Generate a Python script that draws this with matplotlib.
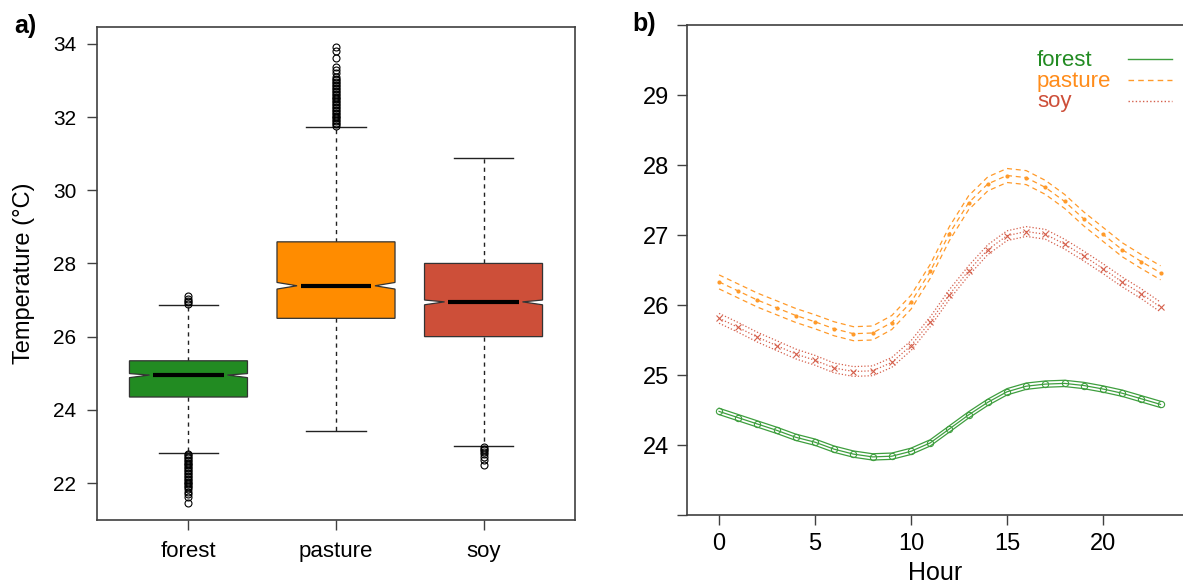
import matplotlib
matplotlib.use("Agg")
import matplotlib.pyplot as plt
from matplotlib.patches import Polygon
from matplotlib.lines import Line2D

plt.rcParams['font.family'] = ['Liberation Sans', 'DejaVu Sans']

# ---------------- Panel a data (boxplot statistics) ----------------
categories = ["forest", "pasture", "soy"]
box_colors = ["#228B22", "#FF8C00", "#CD4F39"]
q1 = [24.35, 26.50, 26.00]
q3 = [25.34, 28.59, 28.00]
med = [24.95, 27.39, 26.95]
notch_lo = [24.88, 27.30, 26.87]
notch_hi = [24.99, 27.48, 27.00]
whisk_lo = [22.83, 23.43, 23.02]
whisk_hi = [26.87, 31.72, 30.89]
fliers_forest = [22.80, 22.76, 22.72, 22.68, 22.64, 22.60, 22.56, 22.52, 22.48, 22.44,
                 22.40, 22.36, 22.32, 22.28, 22.24, 22.20, 22.16, 22.12, 22.08, 22.04,
                 22.00, 21.96, 21.92, 21.88, 21.83, 21.76, 21.70, 21.63, 21.45,
                 26.90, 26.94, 26.98, 27.03, 27.12]
fliers_pasture = [31.76, 31.80, 31.84, 31.88, 31.92, 31.96, 32.00, 32.04, 32.08, 32.12,
                  32.16, 32.20, 32.24, 32.28, 32.32, 32.36, 32.40, 32.44, 32.48, 32.52,
                  32.56, 32.60, 32.64, 32.68, 32.72, 32.76, 32.80, 32.84, 32.88, 32.92,
                  32.96, 33.00, 33.04, 33.10, 33.20, 33.28, 33.36, 33.60, 33.80, 33.92]
fliers_soy = [22.98, 22.94, 22.90, 22.86, 22.80, 22.70, 22.62, 22.50]
fliers = [fliers_forest, fliers_pasture, fliers_soy]

# ---------------- Panel b data (hourly means with CI) ----------------
hours = list(range(24))
forest_mean = [24.48, 24.39, 24.30, 24.21, 24.11, 24.04, 23.94, 23.87, 23.83, 23.84,
               23.91, 24.03, 24.23, 24.43, 24.61, 24.76, 24.84, 24.87, 24.88, 24.85,
               24.80, 24.74, 24.66, 24.58]
pasture_mean = [26.33, 26.20, 26.07, 25.96, 25.85, 25.76, 25.66, 25.59, 25.60, 25.75,
                26.04, 26.48, 27.02, 27.46, 27.73, 27.85, 27.82, 27.68, 27.48, 27.23,
                27.01, 26.79, 26.62, 26.46]
soy_mean = [25.81, 25.68, 25.54, 25.42, 25.30, 25.21, 25.10, 25.05, 25.06, 25.18,
            25.42, 25.76, 26.15, 26.49, 26.79, 26.99, 27.05, 27.01, 26.87, 26.70,
            26.52, 26.33, 26.16, 25.97]
forest_ci = 0.045
pasture_ci = 0.10
soy_ci = 0.07

line_colors = {"forest": "#3E9E3E", "pasture": "#FF9A2A", "soy": "#D5604C"}
legend_text_colors = ["#228B22", "#FF8C1A", "#CD4F39"]

fig = plt.figure(figsize=(11.83, 5.83), dpi=100)
W, H = 1183, 583
spine_col = "#404040"

# ---------------- Panel a ----------------
ax1 = fig.add_axes([97 / W, 1 - 520 / H, (575 - 97) / W, (520 - 27) / H])
bw = 0.8
nf = 0.33  # half-width of box at the notch (fraction of box width)
for i in range(len(categories)):
    x = i + 1
    verts = [(x - bw / 2, q1[i]), (x + bw / 2, q1[i]), (x + bw / 2, notch_lo[i]),
             (x + bw * nf, med[i]), (x + bw / 2, notch_hi[i]), (x + bw / 2, q3[i]),
             (x - bw / 2, q3[i]), (x - bw / 2, notch_hi[i]), (x - bw * nf, med[i]),
             (x - bw / 2, notch_lo[i])]
    ax1.add_patch(Polygon(verts, closed=True, facecolor=box_colors[i],
                          edgecolor="#333333", lw=0.9, zorder=2))
    ax1.plot([x - bw * 0.3, x + bw * 0.3], [med[i], med[i]], color="black", lw=3,
             solid_capstyle="butt", zorder=3)
    ax1.plot([x, x], [q3[i], whisk_hi[i]], color="#222222", lw=1, ls=(0, (3, 3)), zorder=1)
    ax1.plot([x, x], [q1[i], whisk_lo[i]], color="#222222", lw=1, ls=(0, (3, 3)), zorder=1)
    ax1.plot([x - bw / 4, x + bw / 4], [whisk_hi[i], whisk_hi[i]], color="#222222", lw=1)
    ax1.plot([x - bw / 4, x + bw / 4], [whisk_lo[i], whisk_lo[i]], color="#222222", lw=1)
    ax1.plot([x] * len(fliers[i]), fliers[i], ls="none", marker="o", ms=5,
             mfc="none", mec="black", mew=0.8, zorder=4)

ax1.set_xlim(0.38, 3.62)
ax1.set_ylim(20.99, 34.46)
ax1.set_xticks([1, 2, 3])
ax1.set_xticklabels(categories, fontsize=16)
ax1.set_yticks([22, 24, 26, 28, 30, 32, 34])
ax1.tick_params(axis="y", labelsize=15, length=7, width=1, color=spine_col, pad=8)
ax1.tick_params(axis="x", length=7, width=1, color=spine_col, pad=8)
for s in ax1.spines.values():
    s.set_color(spine_col)
    s.set_linewidth(1.2)
ax1.set_ylabel("Temperature (°C)", fontsize=17)
ax1.yaxis.set_label_coords(-0.13, 0.5)

# ---------------- Panel b ----------------
ax2 = fig.add_axes([687 / W, 1 - 515 / H, (W - 687) / W, (515 - 25) / H])
series = [("forest", forest_mean, forest_ci, "-", dict(marker="o", ms=4.5, mfc="none", mew=0.8)),
          ("pasture", pasture_mean, pasture_ci, (0, (4, 3)), dict(marker="o", ms=3, mew=0)),
          ("soy", soy_mean, soy_ci, (0, (1, 1.6)), dict(marker="x", ms=5, mew=0.8))]
for name, m, ci, ls, mk in series:
    c = line_colors[name]
    lo = [v - ci for v in m]
    hi = [v + ci for v in m]
    ax2.plot(hours, lo, color=c, lw=0.9, ls=ls)
    ax2.plot(hours, hi, color=c, lw=0.9, ls=ls)
    ax2.plot(hours, m, color=c, lw=0.9, ls=ls, mec=c, mfc=mk.get("mfc", c),
             marker=mk["marker"], ms=mk["ms"], mew=mk["mew"])

ax2.set_xlim(-1.67, 24.17)
ax2.set_ylim(23, 30)
ax2.set_xticks([0, 5, 10, 15, 20])
ax2.set_yticks([23, 24, 25, 26, 27, 28, 29, 30])
ax2.set_yticklabels(["", "24", "25", "26", "27", "28", "29", ""])
ax2.tick_params(axis="both", labelsize=17, length=7, width=1, color=spine_col, pad=6)
ax2.spines["right"].set_visible(False)
for s in ["left", "top", "bottom"]:
    ax2.spines[s].set_color(spine_col)
    ax2.spines[s].set_linewidth(1.2)
ax2.set_xlabel("Hour", fontsize=18, labelpad=4)

# legend (R style: left-aligned coloured labels, line samples to the right)
leg_rows_y = [60, 81, 102]
for (name, m, ci, ls, mk), tc, ry in zip(series, legend_text_colors, leg_rows_y):
    fig.text(1037 / W, 1 - ry / H, name, color=tc, fontsize=16, ha="left", va="center")
    fig.add_artist(Line2D([1128 / W, 1172 / W], [1 - (ry - 1) / H, 1 - (ry - 1) / H],
                          transform=fig.transFigure, color=line_colors[name], lw=1.0, ls=ls))

fig.text(14 / W, 1 - 14 / H, "a)", fontsize=18, fontweight="bold", va="top", ha="left")
fig.text(632 / W, 1 - 12 / H, "b)", fontsize=18, fontweight="bold", va="top", ha="left")

fig.savefig("out.png", dpi=100)
